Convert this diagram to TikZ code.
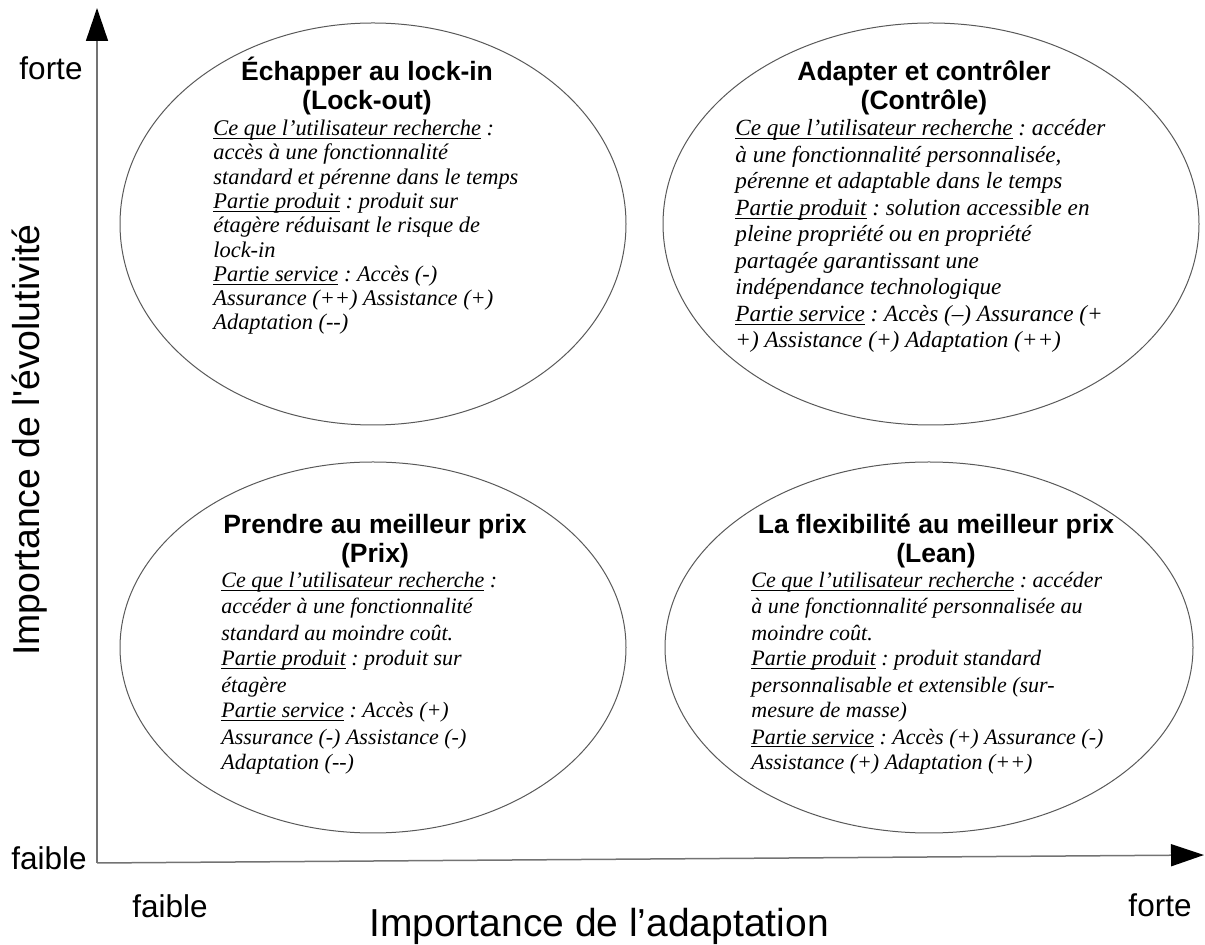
\documentclass[tikz,border=0pt]{standalone}
\usepackage{fontspec}
\setmainfont{Liberation Serif}
\setsansfont{Liberation Sans}
\usetikzlibrary{shapes.geometric, arrows.meta}

\newcommand{\souligne}[1]{\underline{\smash{#1}}}
\frenchspacing

\begin{document}
\begin{tikzpicture}[x=0.5pt, y=-0.5pt,
    bulle/.style={draw=black!65, line width=0.5pt, ellipse, inner sep=0pt},
    titre/.style={anchor=base, align=center, inner sep=0pt,
        font=\sffamily\bfseries\fontsize{13.25}{14.5}\selectfont},
    corps/.style={anchor=base west, align=left, inner sep=0pt},
    axe/.style={draw=black!55, line width=0.75pt, -{Triangle[length=16.5pt, width=11pt, color=black]}},
    graduation/.style={font=\sffamily\fontsize{15.75}{18}\selectfont, inner sep=0pt}]

    \useasboundingbox (0,0) rectangle (1205,945);

    % axes
    \coordinate (origine) at (97,863);
    \coordinate (haut) at (97,8);
    \coordinate (droite) at (1204,855);
    \draw[axe] (origine)--(haut);
    \draw[axe] (origine)--(droite);

    \node[graduation] (fortey) at (51,68) {forte};
    \node[graduation] (faibley) at (49,858) {faible};
    \node[graduation] (faiblex) at (170,906) {faible};
    \node[graduation] (fortex) at (1160,905) {forte};
    \node[font=\sffamily\fontsize{19.5}{22}\selectfont, inner sep=0pt] (titrex) at (599,926) {Importance de l’adaptation};
    \node[font=\sffamily\fontsize{18.7}{22}\selectfont, inner sep=0pt, rotate=90] (titrey) at (30,440) {Importance de l\textquotesingle évolutivité};

    % quadrants
    \node[bulle, minimum width=253pt, minimum height=201pt] (lockout) at (373,224) {};
    \node[bulle, minimum width=268pt, minimum height=201pt] (controle) at (931,224) {};
    \node[bulle, minimum width=253pt, minimum height=185.5pt] (prix) at (373,647.5) {};
    \node[bulle, minimum width=264pt, minimum height=185.5pt] (lean) at (929,647.5) {};

    % texte : ancre sur la ligne de base de la derniere ligne
    \node[titre] (titrelockout) at (367,110) {Échapper au lock-in\\(Lock-out)};
    \node[corps, font=\itshape\fontsize{11.2}{12.15}\selectfont] (textelockout) at (213,330)
        {\souligne{Ce que l’utilisateur recherche} :\\
         accès à une fonctionnalité\\
         standard et pérenne dans le temps\\
         \souligne{Partie produit} : produit sur\\
         étagère réduisant le risque de\\
         lock-in\\
         \souligne{Partie service} : Accès (-)\\
         Assurance (++) Assistance (+)\\
         Adaptation (-{}-)};

    \node[titre] (titrecontrole) at (924,110) {Adapter et contrôler\\(Contrôle)};
    \node[corps, font=\itshape\fontsize{11.6}{13.25}\selectfont] (textecontrole) at (735,348)
        {\souligne{Ce que l’utilisateur recherche} : accéder\\
         à une fonctionnalité personnalisée,\\
         pérenne et adaptable dans le temps\\
         \souligne{Partie produit} : solution accessible en\\
         pleine propriété ou en propriété\\
         partagée garantissant une\\
         indépendance technologique\\
         \souligne{Partie service} : Accès (–) Assurance (+\\
         +) Assistance (+) Adaptation (++)};

    \node[titre] (titreprix) at (375,563) {Prendre au meilleur prix\\(Prix)};
    \node[corps, font=\itshape\fontsize{11}{13}\selectfont] (texteprix) at (221,770)
        {\souligne{Ce que l’utilisateur recherche} :\\
         accéder à une fonctionnalité\\
         standard au moindre coût.\\
         \souligne{Partie produit} : produit sur\\
         étagère\\
         \souligne{Partie service} : Accès (+)\\
         Assurance (-) Assistance (-)\\
         Adaptation (-{}-)};

    \node[titre] (titrelean) at (936,563) {La flexibilité au meilleur prix\\(Lean)};
    \node[corps, font=\itshape\fontsize{11}{13}\selectfont] (textelean) at (751,770)
        {\souligne{Ce que l’utilisateur recherche} : accéder\\
         à une fonctionnalité personnalisée au\\
         moindre coût.\\
         \souligne{Partie produit} : produit standard\\
         personnalisable et extensible (sur-\\
         mesure de masse)\\
         \souligne{Partie service} : Accès (+) Assurance (-)\\
         Assistance (+) Adaptation (++)};

\end{tikzpicture}
\end{document}
